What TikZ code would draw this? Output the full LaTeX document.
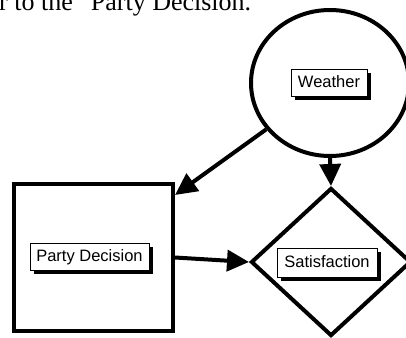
\documentclass[tikz,border=0pt]{standalone}
\usepackage{fontspec}
\setmainfont{Liberation Serif}
\newfontfamily\arialfont{Liberation Sans}
\usetikzlibrary{shapes.geometric,arrows.meta,shadows}
\begin{document}
\begin{tikzpicture}[x=1pt,y=-1pt,
  shapeline/.style={draw=black, line width=4pt, inner sep=0pt},
  lbl/.style={draw=black, line width=0.8pt, fill=white, font=\arialfont\fontsize{16.5pt}{18pt}\selectfont,
    inner xsep=5.5pt, inner ysep=0pt, minimum height=27pt, text height=12pt, text depth=3pt,
    drop shadow={shadow xshift=3.5pt, shadow yshift=-3.5pt, fill=black, opacity=1}},
  conn/.style={line width=4pt, -{Triangle[length=22pt,width=21pt]}}]
\useasboundingbox (0,0) rectangle (406,337);
\clip (0,0) rectangle (406,337);
\node[anchor=base west, inner sep=0pt, font=\fontsize{26pt}{30pt}\selectfont] (toptext) at (-1,10.5) {r to the “Party Decision.};
\node[shapeline, ellipse, minimum width=158pt, minimum height=146pt] (weather) at (330,83) {};
\node[shapeline, rectangle, minimum width=159pt, minimum height=147pt] (party) at (93.5,257.5) {};
\node[shapeline, diamond, aspect=1.08, minimum width=160pt, minimum height=148pt] (sat) at (331,262) {};
\node[lbl, minimum width=76pt] (wlabel) at (329,83) {Weather};
\node[lbl, minimum width=119pt] (plabel) at (89.5,256.5) {Party Decision};
\node[lbl, minimum width=100pt, minimum height=29pt] (slabel) at (327,262.5) {Satisfaction};
\coordinate (ptarget) at ([yshift=-13pt]party.north east);
\draw[conn] (weather.south) -- (sat.north);
\draw[conn] (weather.216) -- (ptarget);
\draw[conn] (party.east) -- (sat.west);
\end{tikzpicture}
\end{document}
